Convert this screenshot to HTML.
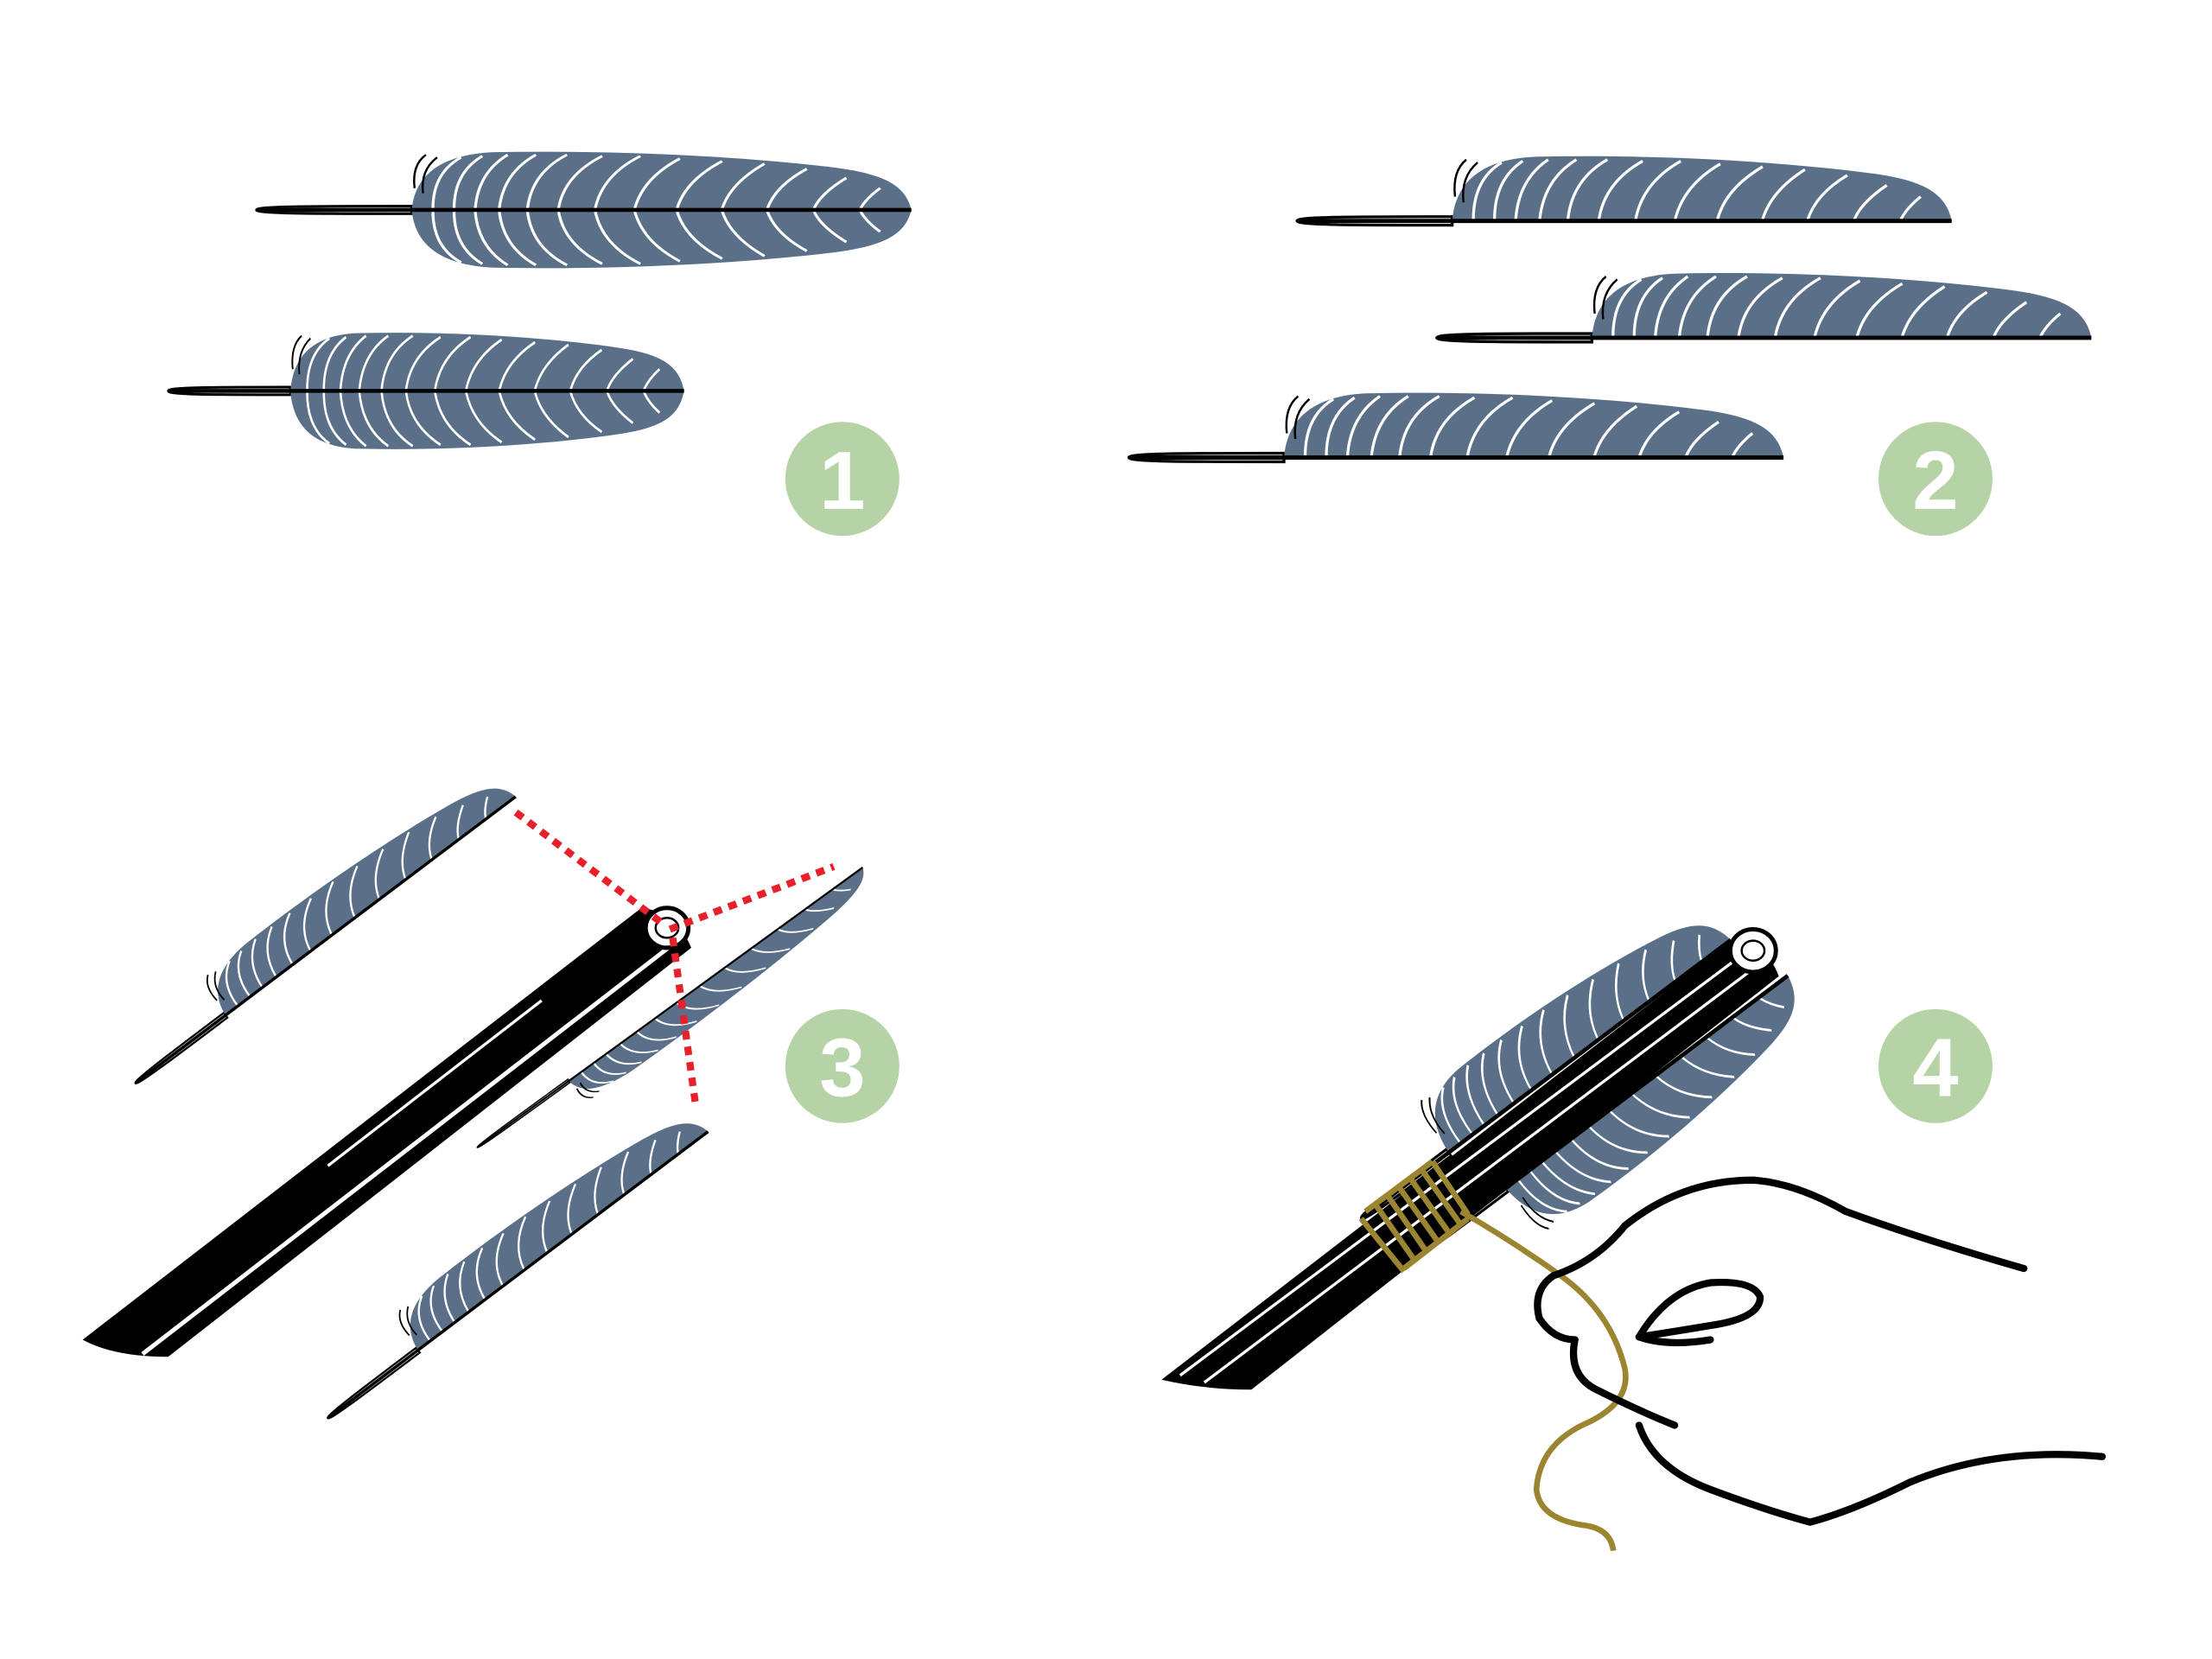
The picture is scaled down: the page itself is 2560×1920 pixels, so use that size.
<!DOCTYPE html>
<html><head><meta charset="utf-8"><style>html,body{margin:0;padding:0;background:#fff}svg{display:block}</style></head>
<body>
<svg width="2560" height="1920" viewBox="0 0 1552 1164" xmlns="http://www.w3.org/2000/svg">
<defs>
<path id="vane" d="M110,47 C112,22 128,4 168,2 C260,0 350,6 410,14 C445,19 460,28 464,47 Z" fill="#5a7089"/>
<g id="lines" fill="none" stroke="#fff" stroke-width="2">
    <path d="M125,46 Q125,18 145,6"/><path d="M140,46 Q140,18 160,5"/><path d="M155,46 Q157,18 178,4"/>
    <path d="M172,46 Q175,18 198,4"/><path d="M192,46 Q195,18 220,4"/><path d="M214,46 Q218,20 245,5"/>
    <path d="M240,46 Q245,20 272,5"/><path d="M268,46 Q274,22 300,7"/><path d="M298,46 Q304,24 330,9"/>
    <path d="M330,46 Q336,26 360,11"/><path d="M362,46 Q368,28 390,15"/><path d="M395,46 Q400,34 418,22"/>
    <path d="M428,46 Q432,38 442,30"/>
</g>
<g id="half">
  <path d="M0,47 C0,44 40,44 110,44 L110,50 C40,50 0,50 0,47Z" fill="#fff" stroke="#000" stroke-width="2"/>
  <use href="#vane"/><use href="#lines"/>
  <path d="M2,47 L464,47" stroke="#000" stroke-width="3"/>
  <path d="M112,30 Q110,12 120,4 M118,34 Q116,16 128,6" fill="none" stroke="#000" stroke-width="1.5"/>
</g>
<g id="full">
  <use href="#half"/>
  <g transform="translate(0,94) scale(1,-1)"><use href="#vane"/><use href="#lines"/></g>
  <path d="M2,47 L464,47" stroke="#000" stroke-width="3"/>
</g>
</defs>

<!-- Panel 1 -->
<g transform="translate(180,105) scale(0.99,0.9)"><use href="#full"/></g>
<g transform="translate(118,232) scale(0.78,0.9)"><use href="#full"/></g>
<circle cx="591" cy="336" r="40" fill="#b6d3a6"/>
<text x="591" y="357" font-family="Liberation Sans, sans-serif" font-weight="bold" font-size="58" fill="#fff" text-anchor="middle">1</text>

<!-- Panel 2 -->
<g transform="translate(910,108) scale(0.99,1)"><use href="#half"/></g>
<g transform="translate(1008,190) scale(0.99,1)"><use href="#half"/></g>
<g transform="translate(792,274) scale(0.99,1)"><use href="#half"/></g>
<circle cx="1358" cy="336" r="40" fill="#b6d3a6"/>
<text x="1358" y="357" font-family="Liberation Sans, sans-serif" font-weight="bold" font-size="58" fill="#fff" text-anchor="middle">2</text>

<!-- Panel 3 -->
<g transform="translate(95,760) rotate(-37) scale(0.72,0.7) translate(0,-47)"><use href="#half"/></g>
<g transform="translate(335,805) rotate(-36) scale(0.72,-0.45) translate(0,-47)"><use href="#half"/></g>
<g transform="translate(230,995) rotate(-37) scale(0.72,0.7) translate(0,-47)"><use href="#half"/></g>
<path d="M58,940 L450,637 Q475,640 485,665 L118,952 Q80,952 58,940Z" fill="#000"/>
<path d="M100,950 L478,658" stroke="#fff" stroke-width="3"/>
<path d="M230,818 L380,702" stroke="#fff" stroke-width="2"/>
<ellipse cx="468" cy="651" rx="15" ry="14" fill="#fff" stroke="#000" stroke-width="3"/>
<ellipse cx="468" cy="651" rx="8" ry="7" fill="none" stroke="#000" stroke-width="1.5"/>
<g stroke="#e8202a" stroke-width="5" stroke-dasharray="6,5" fill="none">
  <path d="M362,570 L465,648"/><path d="M470,652 L585,608"/><path d="M472,658 L488,775"/>
</g>
<circle cx="591" cy="748" r="40" fill="#b6d3a6"/>
<text x="591" y="769" font-family="Liberation Sans, sans-serif" font-weight="bold" font-size="58" fill="#fff" text-anchor="middle">3</text>

<!-- Panel 4 -->
<g transform="translate(955,855) rotate(-37) scale(0.7,0.95) translate(0,-47)"><use href="#half"/></g>
<g transform="translate(995,880) rotate(-37) scale(0.7,-0.95) translate(0,-47)"><use href="#half"/></g>
<path d="M815,968 L1215,660 Q1240,662 1248,685 L878,975 Q845,975 815,968Z" fill="#000"/>
<path d="M828,965 L1225,668 M845,970 L1235,676" stroke="#fff" stroke-width="2"/>
<ellipse cx="1230" cy="667" rx="16" ry="15" fill="#fff" stroke="#000" stroke-width="3"/>
<ellipse cx="1230" cy="667" rx="8" ry="7" fill="none" stroke="#000" stroke-width="1.5"/>
<g stroke="#9c8530" stroke-width="4" fill="none">
  <path d="M955,855 L985,892 M965,845 L993,885 M973,838 L1000,877 M981,832 L1008,870 M989,826 L1016,864 M997,820 L1024,858 M1005,815 L1030,852"/>
  <path d="M958,850 L1005,815 M985,890 L1030,855"/>
  <path d="M1025,850 Q1060,870 1095,895 Q1130,920 1140,960 Q1145,985 1110,1000 Q1080,1015 1078,1045 Q1080,1065 1110,1070 Q1130,1072 1132,1088"/>
</g>
<g stroke="#000" stroke-width="5" fill="none" stroke-linecap="round">
  <path d="M1420,890 Q1350,870 1295,850 Q1260,830 1230,828 Q1180,828 1140,860 Q1120,885 1090,895 Q1075,905 1080,925 Q1090,940 1105,940"/>
  <path d="M1105,940 Q1100,965 1120,975 Q1150,990 1175,1000"/>
  <path d="M1150,938 Q1170,935 1200,930 Q1235,925 1235,910 Q1230,898 1200,900 Q1170,905 1150,938"/>
  <path d="M1150,938 Q1170,945 1200,940"/>
  <path d="M1150,1000 Q1160,1030 1200,1045 Q1240,1060 1270,1068 Q1300,1060 1340,1040 Q1400,1015 1475,1022"/>
</g>
<circle cx="1358" cy="748" r="40" fill="#b6d3a6"/>
<text x="1358" y="769" font-family="Liberation Sans, sans-serif" font-weight="bold" font-size="58" fill="#fff" text-anchor="middle">4</text>
</svg>
</body></html>
